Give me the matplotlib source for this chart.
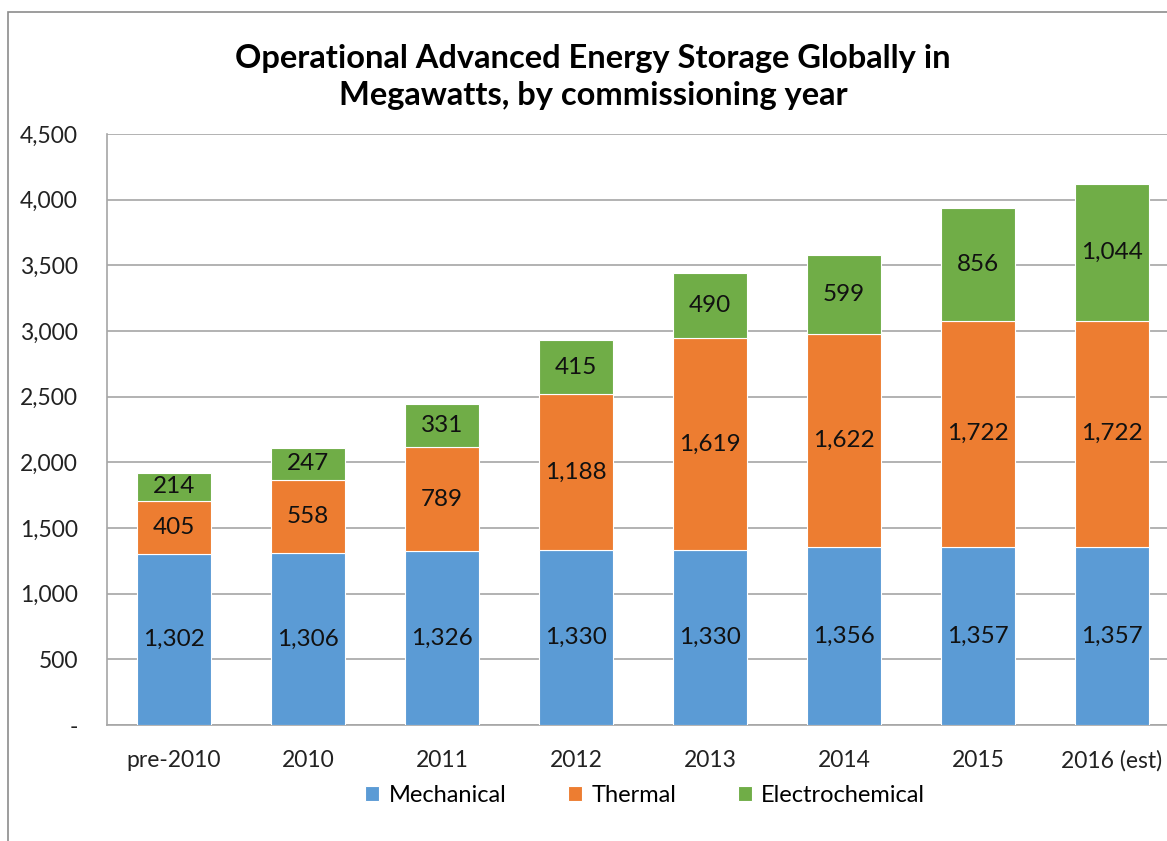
import numpy as np
import matplotlib
matplotlib.use("Agg")
import matplotlib.pyplot as plt
from matplotlib.patches import Rectangle
from matplotlib.ticker import FuncFormatter

# data
years = ["pre-2010", "2010", "2011", "2012", "2013", "2014", "2015", "2016 (est)"]
mechanical = [1302, 1306, 1326, 1330, 1330, 1356, 1357, 1357]
thermal = [405, 558, 789, 1188, 1619, 1622, 1722, 1722]
electrochemical = [214, 247, 331, 415, 490, 599, 856, 1044]
series_names = ["Mechanical", "Thermal", "Electrochemical"]
colors = ["#5B9BD5", "#ED7D31", "#70AD47"]
yticks = [0, 500, 1000, 1500, 2000, 2500, 3000, 3500, 4000, 4500]

plt.rcParams['font.family'] = ['Lato', 'DejaVu Sans']

W, H = 1167, 841
fig = plt.figure(figsize=(W / 100, H / 100), dpi=100)

# chart area border (runs off right/bottom like the screenshot)
fig.patches.append(Rectangle((8 / W, -0.1), 1.2, 1 - 12 / H + 0.1, transform=fig.transFigure,
                             fill=False, edgecolor="#8c8c8c", linewidth=1.2))

ax = fig.add_axes([107 / W, 1 - 725 / H, (1179 - 107) / W, (725 - 134) / H])

x = np.arange(len(years))
bw = 0.55
bottom = np.zeros(len(years))
handles = []
for vals, name, col in zip([mechanical, thermal, electrochemical], series_names, colors):
    vals = np.array(vals)
    bars = ax.bar(x, vals, bw, bottom=bottom, color=col, edgecolor="white", linewidth=0.8,
                  label=name, zorder=3)
    handles.append(bars)
    for xi, b, v in zip(x, bottom, vals):
        ax.text(xi, b + v / 2, f"{v:,}", ha="center", va="center", fontsize=17.5, color="#111111", zorder=4)
    bottom += vals

ax.set_xlim(-0.5, len(years) - 0.5)
ax.set_ylim(0, 4500)
ax.set_yticks(yticks)
ax.yaxis.set_major_formatter(FuncFormatter(lambda v, p: "-" if v == 0 else f"{int(v):,}"))
ax.set_xticks(x)
ax.set_xticklabels(years)
ax.tick_params(axis="both", length=0, labelsize=16.5, colors="#222222")
ax.tick_params(axis="x", pad=18)
ax.tick_params(axis="y", pad=21)
ax.grid(axis="y", color="#a6a6a6", linewidth=1.2, zorder=0)
for s in ["top", "right"]:
    ax.spines[s].set_visible(False)
for s in ["left", "bottom"]:
    ax.spines[s].set_color("#a6a6a6")
    ax.spines[s].set_linewidth(1.2)

fig.text(593 / W, 1 - 77 / H, "Operational Advanced Energy Storage Globally in\nMegawatts, by commissioning year",
         ha="center", va="center", fontsize=23.5, fontweight="bold", linespacing=1.3)

fig.legend(handles=handles, labels=series_names, loc="center", bbox_to_anchor=(645 / W, 1 - 795 / H),
           ncol=3, frameon=False, fontsize=17, handlelength=0.6, handleheight=0.6,
           handletextpad=0.4, columnspacing=2.6)

fig.savefig("out.png", dpi=100)
